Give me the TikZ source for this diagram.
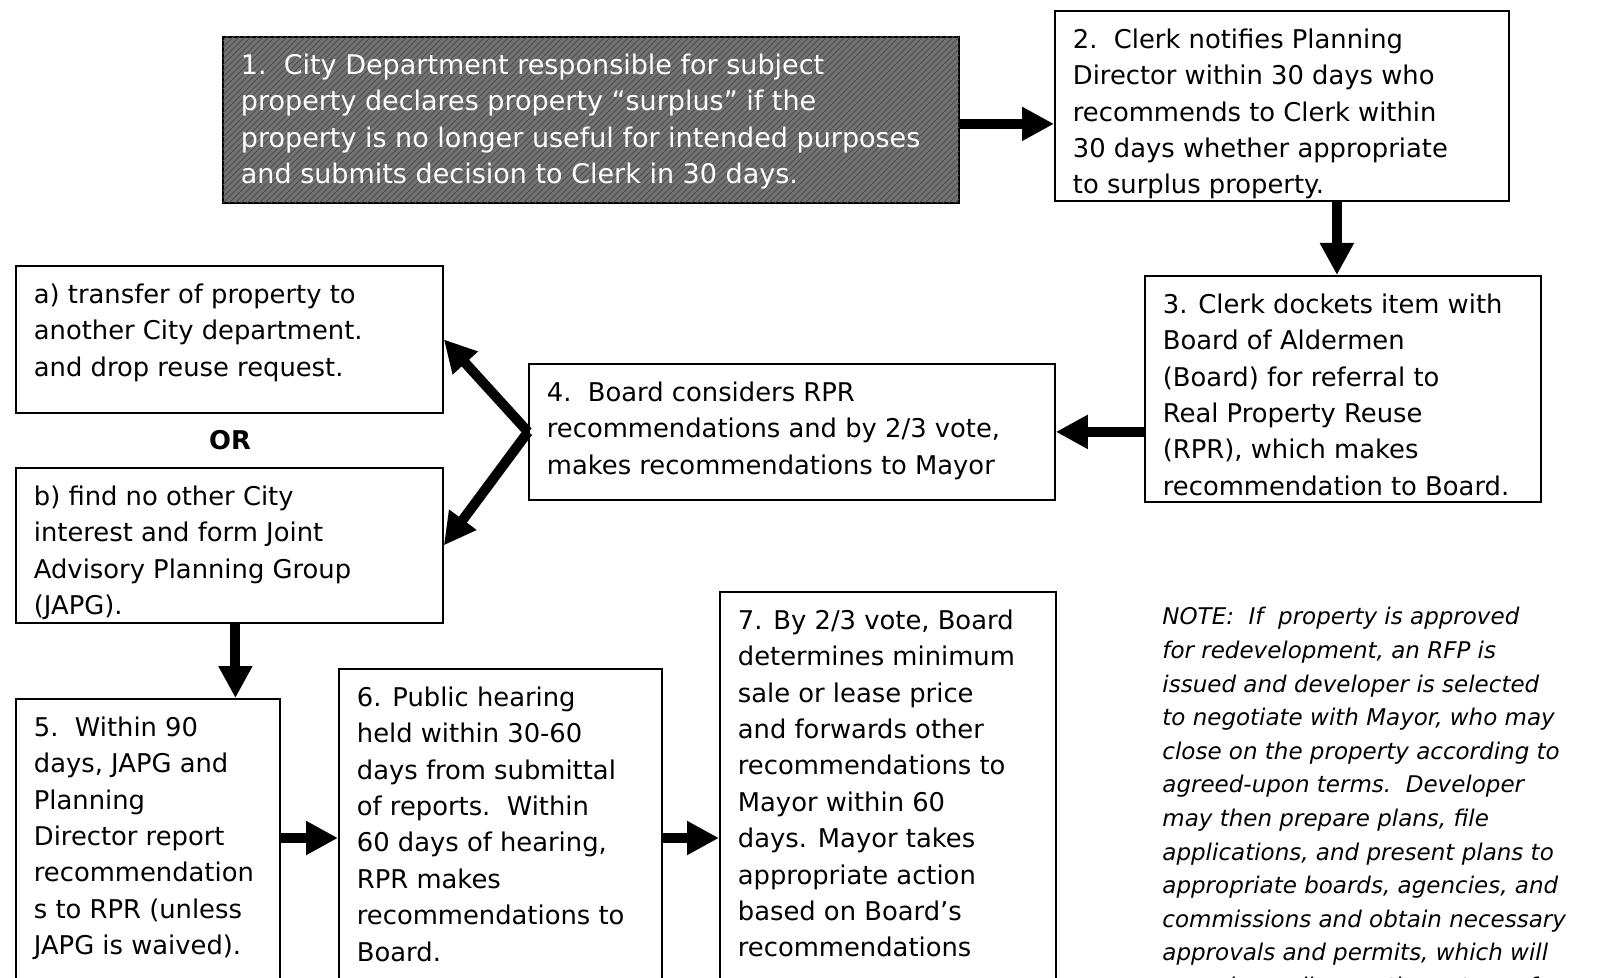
\documentclass[tikz,border=0pt]{standalone}
\usepackage{fontspec}
\setmainfont{DejaVu Sans}
\usetikzlibrary{arrows.meta,positioning,patterns}

\newcommand{\stepfont}{\fontsize{12.9}{18.2}\selectfont}
\newcommand{\stepbody}[3]{\parbox[t][#2][t]{#1}{\raggedright\strut#3}}

\tikzset{
  stepbox/.style={draw, line width=0.9pt, anchor=north west, inner xsep=9pt, inner ysep=6pt, font=\stepfont},
  darkbox/.style={stepbox, fill=black!55, postaction={pattern=north east lines, pattern color=black!70},
    text=white, font=\fontsize{13.5}{18.2}\selectfont},
  flow/.style={line width=5pt, -{Triangle[width=16pt,length=16pt]}},
}

\begin{document}
\begin{tikzpicture}[x=0.5pt, y=-0.5pt]
  \useasboundingbox (0,0) rectangle (1598,978);
  \clip (0,0) rectangle (1598,978);

  % top row
  \node[darkbox] (s1) at (222,36) {\stepbody{350pt}{71pt}{1.~~City Department responsible for subject\\
    property declares property “surplus” if the\\
    property is no longer useful for intended purposes\\
    and submits decision to Clerk in 30 days.}};
  \node[stepbox] (s2) at (1054,10) {\stepbody{209pt}{83pt}{2.~~Clerk notifies Planning\\
    Director within 30 days who\\
    recommends to Clerk within\\
    30 days whether appropriate\\
    to surplus property.}};

  % middle row
  \node[stepbox] (s3) at (1144,275) {\stepbody{180pt}{101pt}{3. Clerk dockets item with\\
    Board of Aldermen\\
    (Board) for referral to\\
    Real Property Reuse\\
    (RPR), which makes\\
    recommendation to Board.}};
  \node[stepbox] (s4) at (528,363) {\stepbody{245pt}{56pt}{4.~~Board considers RPR\\
    recommendations and by 2/3 vote,\\
    makes recommendations to Mayor}};
  \node[stepbox] (sa) at (15,265) {\stepbody{195.5pt}{61.5pt}{a) transfer of property to\\
    another City department.\\
    and drop reuse request.}};
  \node[font=\bfseries\stepfont] (or) at (230,440) {OR};
  \node[stepbox] (sb) at (15,467) {\stepbody{195.5pt}{65.5pt}{b) find no other City\\
    interest and form Joint\\
    Advisory Planning Group\\
    (JAPG).}};

  % bottom row
  \node[stepbox] (s5) at (15,698) {\stepbody{114pt}{200pt}{5.~~Within 90\\
    days, JAPG and\\
    Planning\\
    Director report\\
    recommendation\\
    s to RPR (unless\\
    JAPG is waived).}};
  \node[stepbox] (s6) at (338,668) {\stepbody{143.5pt}{200pt}{6. Public hearing\\
    held within 30-60\\
    days from submittal\\
    of reports.~~Within\\
    60 days of hearing,\\
    RPR makes\\
    recommendations to\\
    Board.}};
  \node[stepbox] (s7) at (719,591) {\stepbody{150pt}{220pt}{7. By 2/3 vote, Board\\
    determines minimum\\
    sale or lease price\\
    and forwards other\\
    recommendations to\\
    Mayor within 60\\
    days. Mayor takes\\
    appropriate action\\
    based on Board's\\
    recommendations}};
  \node[anchor=north west, inner sep=0pt, align=left, font=\itshape\fontsize{11.5}{16.8}\selectfont] (note) at (1162,601) {\strut NOTE:~~If~~property is approved\\
    for redevelopment, an RFP is\\
    issued and developer is selected\\
    to negotiate with Mayor, who may\\
    close on the property according to\\
    agreed-upon terms.~~Developer\\
    may then prepare plans, file\\
    applications, and present plans to\\
    appropriate boards, agencies, and\\
    commissions and obtain necessary\\
    approvals and permits, which will\\
    vary depending on the nature of};

  \coordinate (row) at (0,838);

  % connectors
  \draw[flow] ([yshift=-2pt]s1.east) -- ([yshift=-2pt]s1.east -| s2.west);
  \draw[flow] ([xshift=-3pt]s3.north |- s2.south) -- ([xshift=-3pt]s3.north);
  \draw[flow] (s4.east -| s3.west) -- (s4.east);
  \draw[flow] (s4.west) -- (sa.east);
  \draw[flow] (s4.west) -- (sb.east);
  \draw[flow] ([xshift=3pt]sb.south) -- ([xshift=3pt]sb.south |- s5.north);
  \draw[flow] (s5.east |- row) -- (s6.west |- row);
  \draw[flow] (s6.east |- row) -- (s7.west |- row);
\end{tikzpicture}
\end{document}
